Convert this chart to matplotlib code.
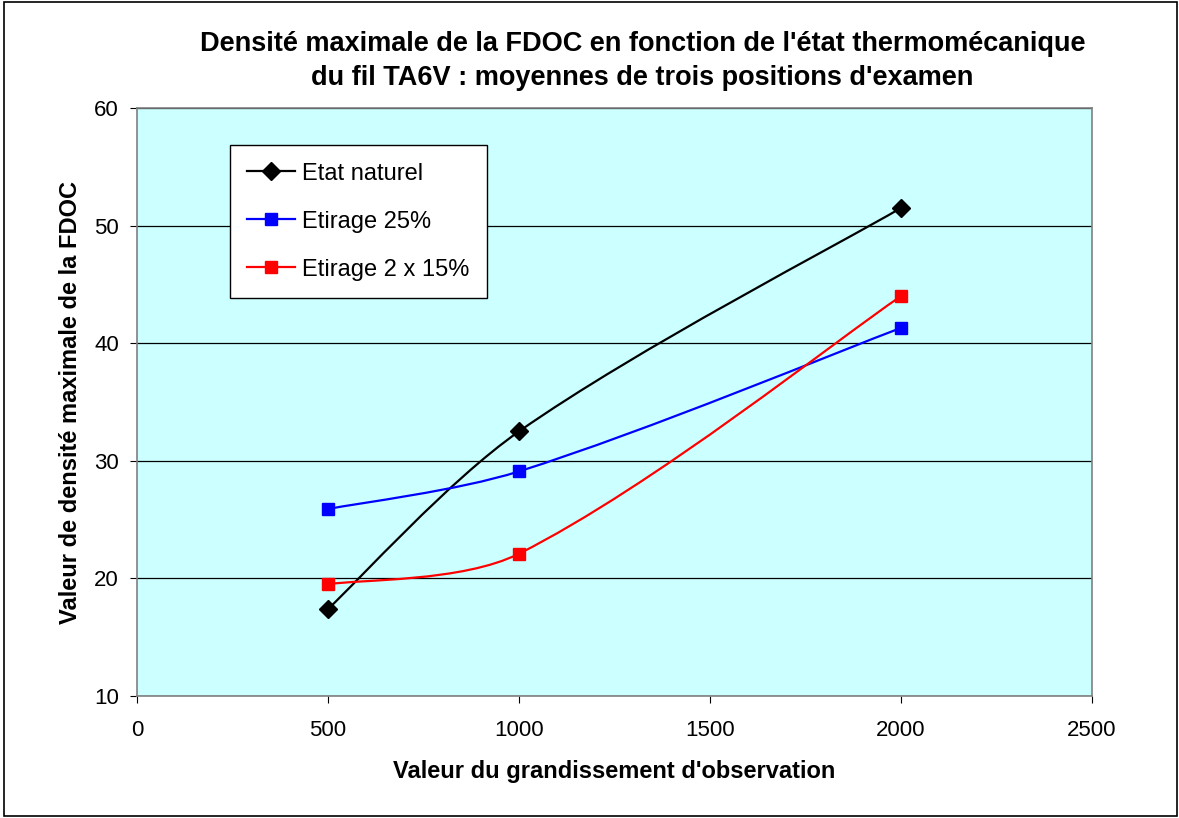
import numpy as np
import matplotlib.pyplot as plt
from matplotlib.path import Path
from matplotlib.patches import PathPatch
from matplotlib.lines import Line2D

plt.rcParams['font.family'] = ['Liberation Sans', 'DejaVu Sans']

grandissement = [500, 1000, 2000]
etat_naturel = [17.4, 32.5, 51.5]
etirage_25 = [25.9, 29.1, 41.3]
etirage_2x15 = [19.5, 22.1, 44.0]

series = [
    ('Etat naturel', etat_naturel, 'black', 'D', 9),
    ('Etirage 25%', etirage_25, '#0000FF', 's', 8),
    ('Etirage 2 x 15%', etirage_2x15, '#FF0000', 's', 8),
]


def smooth_path(ax, x, y):
    # Excel-like smoothed line, control points worked out in pixel space
    pts = ax.transData.transform(np.column_stack([x, y]).astype(float))
    n = len(pts)
    verts = [pts[0]]
    codes = [Path.MOVETO]
    for i in range(n - 1):
        p0 = pts[max(i - 1, 0)]
        p1 = pts[i]
        p2 = pts[i + 1]
        p3 = pts[min(i + 2, n - 1)]
        seg = np.hypot(*(p2 - p1))
        la = np.hypot(*(p1 - p0))
        lb = np.hypot(*(p3 - p2))
        t1 = (p2 - p0) * (seg / (seg + la)) / 3.0 if la > 0 else (p2 - p1) / 6.0
        t2 = (p3 - p1) * (seg / (seg + lb)) / 3.0 if lb > 0 else (p2 - p1) / 6.0
        verts += [p1 + t1, p2 - t2, p2]
        codes += [Path.CURVE4] * 3
    verts = ax.transData.inverted().transform(np.array(verts))
    return Path(verts, codes)


fig = plt.figure(figsize=(11.79, 8.18), dpi=100)
ax = fig.add_axes([137 / 1179, 1 - 696 / 818, 955 / 1179, 588 / 818])
ax.set_facecolor('#CCFFFF')
ax.set_xlim(0, 2500)
ax.set_ylim(10, 60)

for name, vals, col, mk, ms in series:
    ax.add_patch(PathPatch(smooth_path(ax, grandissement, vals), facecolor='none',
                           edgecolor=col, lw=1.6, zorder=3))
    ax.plot(grandissement, vals, linestyle='none', marker=mk, color=col,
            markersize=ms, zorder=4)

ax.set_xticks(np.arange(0, 2501, 500))
ax.set_yticks(np.arange(10, 61, 10))
ax.yaxis.grid(True, color='black', lw=0.9)
ax.set_axisbelow(True)
for s in ax.spines.values():
    s.set_color('#808080')
    s.set_linewidth(1.2)
ax.tick_params(direction='out', length=5, labelsize=16, color='black')
ax.tick_params(axis='x', pad=12)
ax.tick_params(axis='y', pad=8)

ax.set_xlabel("Valeur du grandissement d'observation", fontsize=17,
              fontweight='bold', labelpad=14)
ax.set_ylabel('Valeur de densité maximale de la FDOC', fontsize=17,
              fontweight='bold', labelpad=9)
fig.text(0.545, 0.962, "Densité maximale de la FDOC en fonction de l'état thermomécanique\n"
         "du fil TA6V : moyennes de trois positions d'examen",
         ha='center', va='top', fontsize=19.5, fontweight='bold', linespacing=1.38)

handles = [Line2D([], [], color=c, marker=m, markersize=ms, lw=1.6)
           for _, _, c, m, ms in series]
leg = ax.legend(handles, [s[0] for s in series], loc='upper left',
                bbox_to_anchor=(0.097, 0.937), borderaxespad=0,
                fontsize=17, frameon=True,
                fancybox=False, edgecolor='black', framealpha=1,
                labelspacing=1.1, handlelength=2.0, borderpad=0.75,
                handletextpad=0.3)
leg.get_frame().set_linewidth(1.0)

fig.patches.append(plt.Rectangle((0.003, 0.002), 0.995, 0.996, fill=False,
                                 edgecolor='black', lw=1.2,
                                 transform=fig.transFigure))

plt.savefig('out.png', dpi=100)
